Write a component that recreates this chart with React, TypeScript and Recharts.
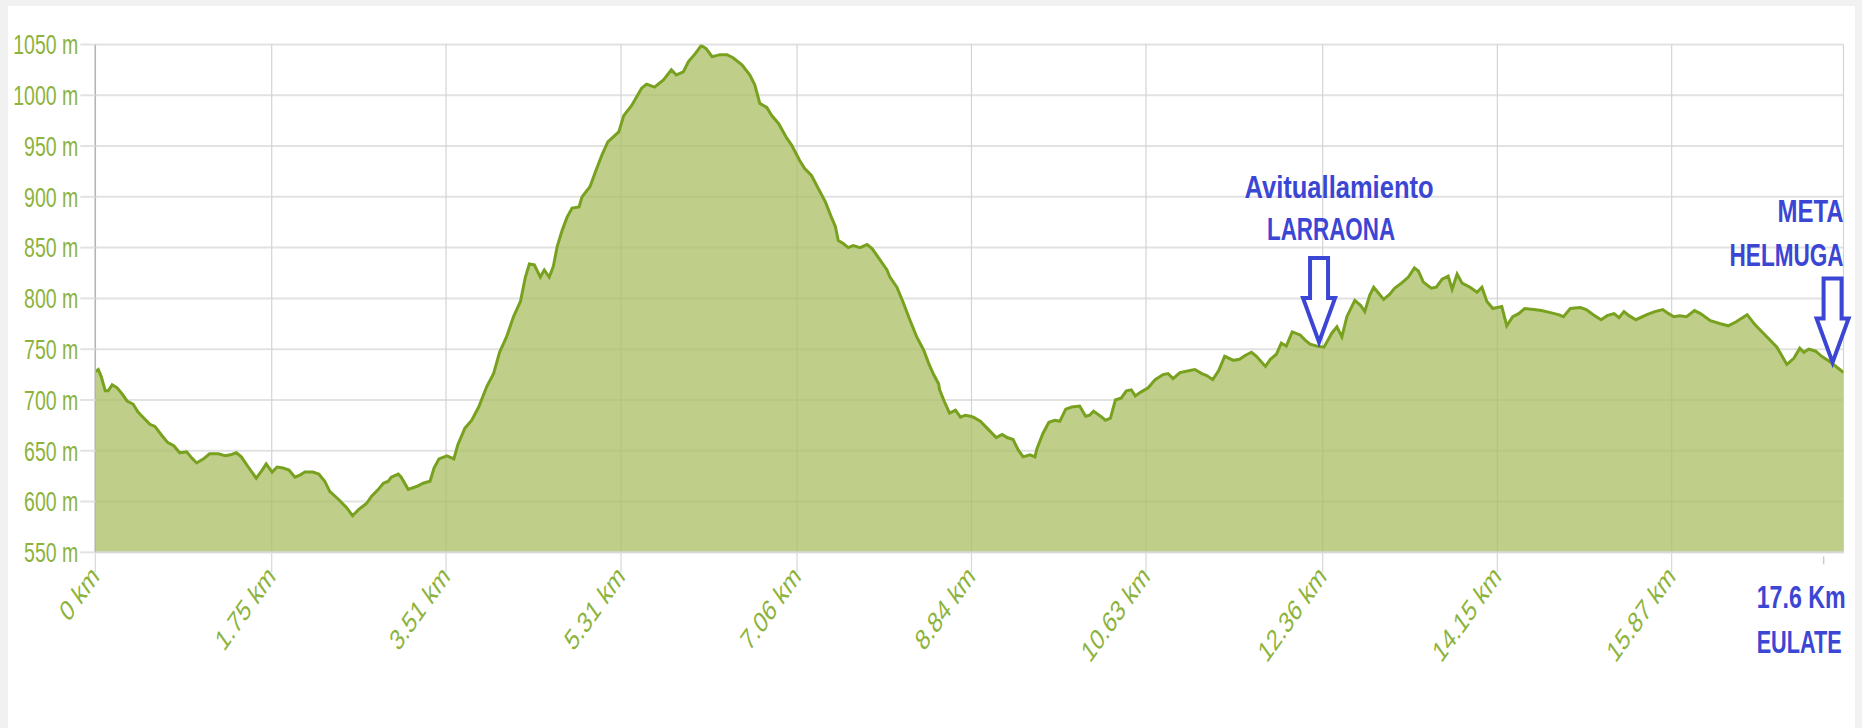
import React from 'react';
import { AreaChart, Area, XAxis, YAxis, CartesianGrid, ReferenceDot } from 'recharts';

// Distance along the track (km, linear axis) and elevation (m)
const DIST_KM = [
  0.00, 0.03, 0.06, 0.10, 0.13, 0.17, 0.22, 0.27, 0.32, 0.38, 0.43, 0.50, 0.55, 0.60, 0.67, 0.73, 0.79, 0.85, 0.92, 0.97,
  1.02, 1.09, 1.15, 1.24, 1.31, 1.36, 1.42, 1.47, 1.54, 1.62, 1.68, 1.72, 1.78, 1.83, 1.89, 1.95, 2.01, 2.06, 2.11, 2.19,
  2.25, 2.31, 2.36, 2.45, 2.53, 2.59, 2.65, 2.73, 2.78, 2.85, 2.90, 2.95, 2.98, 3.05, 3.08, 3.15, 3.24, 3.30, 3.37, 3.41,
  3.46, 3.54, 3.61, 3.65, 3.72, 3.79, 3.86, 3.94, 4.01, 4.07, 4.14, 4.21, 4.28, 4.33, 4.37, 4.42, 4.48, 4.52, 4.57, 4.61,
  4.65, 4.70, 4.75, 4.80, 4.87, 4.90, 4.98, 5.04, 5.10, 5.16, 5.27, 5.32, 5.40, 5.50, 5.55, 5.63, 5.72, 5.80, 5.85, 5.92,
  5.97, 6.04, 6.10, 6.15, 6.21, 6.29, 6.36, 6.42, 6.51, 6.59, 6.64, 6.69, 6.76, 6.81, 6.88, 6.96, 7.01, 7.09, 7.14, 7.21,
  7.28, 7.35, 7.41, 7.45, 7.48, 7.53, 7.58, 7.63, 7.70, 7.77, 7.82, 7.90, 7.97, 8.00, 8.07, 8.13, 8.20, 8.27, 8.34, 8.39,
  8.44, 8.49, 8.50, 8.55, 8.60, 8.66, 8.71, 8.76, 8.81, 8.84, 8.91, 8.99, 9.07, 9.13, 9.18, 9.24, 9.29, 9.34, 9.41, 9.46,
  9.48, 9.54, 9.60, 9.66, 9.71, 9.77, 9.83, 9.91, 9.97, 10.01, 10.05, 10.12, 10.17, 10.22, 10.27, 10.33, 10.38, 10.43, 10.47, 10.53,
  10.60, 10.67, 10.75, 10.80, 10.85, 10.92, 11.02, 11.07, 11.14, 11.19, 11.25, 11.31, 11.37, 11.46, 11.52, 11.58, 11.64, 11.69, 11.78, 11.83,
  11.89, 11.94, 11.99, 12.05, 12.13, 12.18, 12.23, 12.30, 12.37, 12.45, 12.50, 12.55, 12.60, 12.68, 12.74, 12.78, 12.83, 12.87, 12.92, 12.97,
  13.03, 13.08, 13.15, 13.22, 13.28, 13.32, 13.37, 13.45, 13.50, 13.56, 13.62, 13.66, 13.71, 13.76, 13.84, 13.91, 13.96, 14.01, 14.07, 14.16,
  14.21, 14.27, 14.33, 14.39, 14.48, 14.56, 14.65, 14.73, 14.78, 14.85, 14.95, 15.01, 15.08, 15.16, 15.22, 15.29, 15.34, 15.39, 15.44, 15.51,
  15.62, 15.70, 15.78, 15.84, 15.89, 15.95, 16.02, 16.10, 16.16, 16.26, 16.36, 16.44, 16.52, 16.63, 16.71, 16.83, 16.93, 17.03, 17.10, 17.16,
  17.20, 17.25, 17.32, 17.38, 17.46, 17.55, 17.60,
];

const ELEV_M = [
  728, 730, 723, 709, 709, 715, 712, 706, 699, 696, 688, 681, 676, 674, 665, 658, 655, 648, 649, 643,
  638, 642, 647, 647, 645, 646, 648, 644, 634, 623, 631, 637, 629, 634, 633, 631, 624, 626, 629, 629,
  627, 620, 610, 602, 594, 586, 592, 598, 605, 612, 618, 620, 624, 627, 624, 612, 615, 618, 620, 633,
  642, 645, 642, 656, 672, 680, 693, 713, 726, 747, 762, 782, 797, 821, 834, 833, 821, 828, 821, 831,
  851, 867, 880, 889, 890, 900, 910, 926, 941, 954, 964, 980, 990, 1007, 1011, 1008, 1015, 1025, 1020, 1023,
  1033, 1041, 1049, 1046, 1038, 1040, 1040, 1037, 1030, 1020, 1010, 992, 988, 980, 972, 958, 951, 936, 928, 921,
  908, 895, 880, 871, 857, 854, 850, 852, 850, 853, 849, 838, 828, 821, 811, 797, 779, 762, 749, 736,
  725, 716, 710, 698, 687, 690, 683, 685, 684, 683, 679, 671, 663, 666, 663, 661, 651, 644, 646, 644,
  652, 667, 678, 680, 679, 691, 693, 694, 684, 685, 689, 684, 680, 682, 700, 702, 709, 710, 704, 708,
  712, 720, 725, 726, 721, 727, 729, 730, 726, 724, 720, 729, 743, 739, 740, 744, 747, 743, 733, 740,
  745, 756, 753, 767, 764, 759, 755, 753, 752, 766, 772, 762, 782, 798, 793, 787, 803, 811, 805, 799,
  804, 810, 815, 821, 830, 827, 816, 810, 811, 819, 822, 809, 824, 815, 811, 806, 811, 797, 790, 792,
  773, 782, 785, 790, 789, 788, 786, 784, 782, 790, 791, 789, 784, 779, 783, 785, 781, 787, 783, 779,
  784, 787, 789, 785, 782, 783, 782, 788, 785, 778, 775, 773, 777, 784, 774, 762, 752, 735, 741, 751,
  747, 750, 748, 743, 738, 731, 727,
];

// X axis: tick positions on the distance axis and their labels
const X_TICK_POS = [0, 1.776, 3.531, 5.293, 7.065, 8.821, 10.578, 12.357, 14.115, 15.87];
const X_TICK_LABELS = ['0 km', '1.75 km', '3.51 km', '5.31 km', '7.06 km', '8.84 km', '10.63 km', '12.36 km', '14.15 km', '15.87 km'];
const X_DOMAIN = [0, 17.6];

// Y axis ticks (m)
const Y_TICKS = [550, 600, 650, 700, 750, 800, 850, 900, 950, 1000, 1050];

// Annotations
const MARKER_KM = [12.32, 17.49];
const MARKER_ELEV = [757, 737];
const MARKER_TEXT = [['Avituallamiento', 'LARRAONA'], ['META', 'HELMUGA']];
const FINISH_KM = 17.4;
const FINISH_LABEL = ['17.6 Km', 'EULATE'];

const data = DIST_KM.map((d, i) => ({ d, e: ELEV_M[i] }));

const GREEN_TEXT = '#8db33c';
const BLUE = '#3c46d4';
const FONT = '"Liberation Sans", Arial, sans-serif';

const YTick = (props: any) => {
  const { x, y, payload } = props;
  return (
    <g transform={`translate(${x},${y}) scale(1,1.4)`}>
      <text x={0} y={0} dy="0.36em" textAnchor="end" fill={GREEN_TEXT} fontSize={19.5} fontFamily={FONT}>
        {`${payload.value} m`}
      </text>
    </g>
  );
};

const XTick = (props: any) => {
  const { x, y, payload } = props;
  const idx = X_TICK_POS.indexOf(payload.value);
  const label = idx >= 0 ? X_TICK_LABELS[idx] : '';
  return (
    <g transform={`translate(${x + 5},${y + 4}) scale(1,1.4) rotate(-45)`}>
      <text x={0} y={0} textAnchor="end" fill={GREEN_TEXT} fontSize={21} fontFamily={FONT}>
        {label}
      </text>
    </g>
  );
};

const Arrow = ({ cx, cy }: { cx: number; cy: number }) => (
  <path
    d={`M${cx},${cy} L${cx - 16},${cy - 44} L${cx - 9},${cy - 44} L${cx - 9},${cy - 84} L${cx + 9},${cy - 84} L${cx + 9},${cy - 44} L${cx + 16},${cy - 44} Z`}
    fill="#ffffff"
    stroke={BLUE}
    strokeWidth={4}
  />
);

const AnnoText = ({ x, y, anchor, width, children }: any) => (
  <g transform={`translate(${x},${y}) scale(1,1.33)`}>
    <text
      x={0}
      y={0}
      textAnchor={anchor}
      textLength={width}
      lengthAdjust="spacingAndGlyphs"
      fontSize={23}
      fontWeight="bold"
      fill={BLUE}
      fontFamily={FONT}
    >
      {children}
    </text>
  </g>
);

const LarraonaShape = (p: any) => {
  const { cx, cy } = p;
  return (
    <g>
      <Arrow cx={cx} cy={cy} />
      <AnnoText x={cx + 20} y={cy - 144} anchor="middle" width={189}>{MARKER_TEXT[0][0]}</AnnoText>
      <AnnoText x={cx + 12} y={cy - 102} anchor="middle" width={128}>{MARKER_TEXT[0][1]}</AnnoText>
    </g>
  );
};

const MetaShape = (p: any) => {
  const { cx, cy } = p;
  return (
    <g>
      <Arrow cx={cx} cy={cy} />
      <AnnoText x={cx + 11} y={cy - 140} anchor="end" width={66}>{MARKER_TEXT[1][0]}</AnnoText>
      <AnnoText x={cx + 11} y={cy - 96} anchor="end" width={114}>{MARKER_TEXT[1][1]}</AnnoText>
    </g>
  );
};

const FinishShape = (p: any) => {
  const { cx, cy } = p;
  return (
    <g>
      <line x1={cx} x2={cx} y1={cy + 4} y2={cy + 12} stroke="#cccccc" strokeWidth={1.5} />
      <AnnoText x={cx - 67} y={cy + 56} anchor="start" width={89}>{FINISH_LABEL[0]}</AnnoText>
      <AnnoText x={cx - 67} y={cy + 101} anchor="start" width={85}>{FINISH_LABEL[1]}</AnnoText>
    </g>
  );
};

export default function App() {
  return (
    <div style={{ position: 'absolute', left: 0, top: 0, width: 1862, height: 728, background: '#f1f1f1', overflow: 'hidden' }}>
      <div style={{ position: 'absolute', left: 8, top: 6, width: 1847, height: 722, background: '#ffffff' }} />
      <div style={{ position: 'absolute', left: 0, top: 0 }}>
        <AreaChart width={1862} height={728} data={data} margin={{ top: 44.5, right: 18.5, bottom: 75.7, left: 0 }}>
          <CartesianGrid vertical={false} stroke="#e2e2e2" strokeWidth={2} />
          <CartesianGrid horizontal={false} stroke="#d4d4d4" strokeWidth={1.2} />
          <XAxis
            type="number"
            dataKey="d"
            domain={X_DOMAIN}
            ticks={X_TICK_POS}
            interval={0}
            allowDataOverflow
            height={100}
            tickSize={20}
            tickLine={{ stroke: '#d8d8d8', strokeWidth: 1.2 }}
            axisLine={{ stroke: '#d8d8d8', strokeWidth: 2 }}
            tick={<XTick />}
          />
          <YAxis
            type="number"
            domain={[Y_TICKS[0], Y_TICKS[Y_TICKS.length - 1]]}
            ticks={Y_TICKS}
            interval={0}
            allowDataOverflow
            width={95.3}
            tickSize={15}
            tickLine={{ stroke: '#e2e2e2', strokeWidth: 2 }}
            axisLine={{ stroke: '#b4b4b4', strokeWidth: 1.5 }}
            tick={<YTick />}
          />
          <Area
            type="linear"
            dataKey="e"
            baseValue={Y_TICKS[0]}
            stroke="#78a11f"
            strokeWidth={3}
            fill="#a9bf63"
            fillOpacity={0.75}
            dot={false}
            activeDot={false}
            isAnimationActive={false}
          />
          <ReferenceDot x={MARKER_KM[0]} y={MARKER_ELEV[0]} ifOverflow="visible" shape={LarraonaShape} />
          <ReferenceDot x={MARKER_KM[1]} y={MARKER_ELEV[1]} ifOverflow="visible" shape={MetaShape} />
          <ReferenceDot x={FINISH_KM} y={Y_TICKS[0]} ifOverflow="visible" shape={FinishShape} />
        </AreaChart>
      </div>
    </div>
  );
}
